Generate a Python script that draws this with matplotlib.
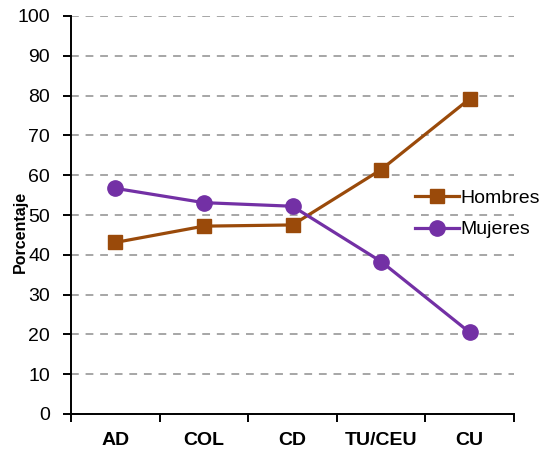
import matplotlib.pyplot as plt
import numpy as np

plt.rcParams['font.family'] = ['Liberation Sans', 'DejaVu Sans']

categorias = ['AD', 'COL', 'CD', 'TU/CEU', 'CU']
hombres = [43.1, 47.2, 47.5, 61.4, 79.2]
mujeres = [56.7, 53.1, 52.2, 38.3, 20.5]

fig = plt.figure(figsize=(5.39, 4.55), dpi=100)
ax = fig.add_axes([71 / 539, 1 - 414 / 455, 443 / 539, 398 / 455])

x = np.arange(len(categorias))
ax.plot(x, hombres, color='#9A4A0A', lw=2.3, marker='s', ms=10.5, label='Hombres')
ax.plot(x, mujeres, color='#7330A5', lw=2.3, marker='o', ms=11, label='Mujeres')

ax.set_xlim(-0.5, len(categorias) - 0.5)
ax.set_ylim(0, 100)
ax.set_yticks(range(0, 101, 10))
ax.yaxis.grid(True, color='#A6A6A6', ls=(0, (4, 3.5)), lw=1.4)
ax.set_axisbelow(True)

# separadores entre categorias y etiquetas centradas
ax.set_xticks(np.arange(-0.5, len(categorias), 1.0))
ax.set_xticklabels([])
ax.set_xticks(x, minor=True)
ax.set_xticklabels(categorias, minor=True, fontweight='bold', fontsize=14)
ax.tick_params(axis='x', which='minor', length=0, pad=13)
ax.tick_params(axis='x', which='major', length=6, width=1.4)
ax.tick_params(axis='y', length=6, width=1.4, labelsize=14, pad=9)

for s in ['top', 'right']:
    ax.spines[s].set_visible(False)
for s in ['left', 'bottom']:
    ax.spines[s].set_linewidth(1.4)

fig.text(20 / 539, 1 - 232 / 455, 'Porcentaje', rotation=90, fontsize=11.5,
         fontweight='bold', ha='center', va='center')

ax.legend(loc='center left', bbox_to_anchor=(405 / 539, 1 - 214 / 455),
          bbox_transform=fig.transFigure, frameon=False, fontsize=14,
          handlelength=2.3, handletextpad=0.05, labelspacing=0.7, borderpad=0)

fig.savefig('out.png', dpi=100)
